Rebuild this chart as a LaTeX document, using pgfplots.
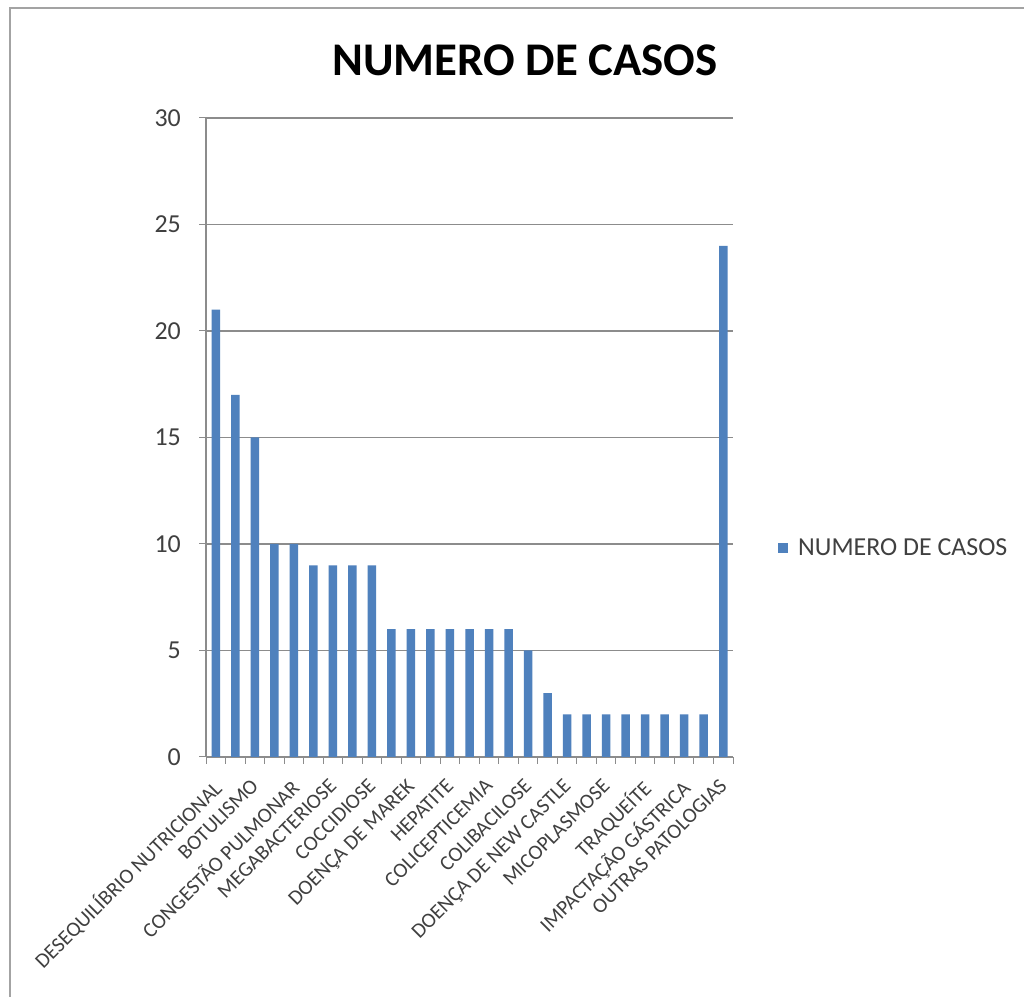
\documentclass[border=0pt]{standalone}
\usepackage{fontspec}
\setmainfont{Carlito}
\usepackage{pgfplots}
\pgfplotsset{compat=1.18}
\definecolor{barblue}{HTML}{4F81BD}
\definecolor{gridgray}{HTML}{8C8C8C}
\definecolor{txtgray}{HTML}{404040}
\begin{document}
\begin{tikzpicture}[x=1bp,y=1bp]
\useasboundingbox (0,0) rectangle (1024,997);
\fill[white] (0,0) rectangle (1024,997);
\draw[color=gridgray!80,line width=2.5bp] (10,0) -- (10,989) -- (1024,989);
\node[font=\fontsize{47}{50}\selectfont\bfseries] at (525,937) {NUMERO DE CASOS};
\begin{axis}[
  at={(206bp,240bp)}, anchor=south west,
  scale only axis, width=527bp, height=639bp,
  xmin=-0.5, xmax=26.5, ymin=0, ymax=30,
  ytick={0,5,...,30},
  xtick={0,2,...,26},
  xticklabels={DESEQUILÍBRIO NUTRICIONAL,BOTULISMO,CONGESTÃO PULMONAR,MEGABACTERIOSE,COCCIDIOSE,DOENÇA DE MAREK,HEPATITE,COLICEPTICEMIA,COLIBACILOSE,DOENÇA DE NEW CASTLE,MICOPLASMOSE,TRAQUEÍTE,IMPACTAÇÃO GÁSTRICA,OUTRAS PATOLOGIAS},
  minor xtick={-0.5,0.5,...,26.5},
  xtick style={draw=none},
  minor x tick style={draw=gridgray,line width=1bp},
  ytick style={draw=gridgray,line width=1bp},
  minor tick length=7bp, major tick length=7bp,
  tick align=outside,
  axis lines*=left,
  axis line style={draw=gridgray,line width=1.2bp},
  ymajorgrids, grid style={draw=gridgray,line width=1.2bp},
  /pgf/number format/assume math mode=true,
  yticklabel style={font=\fontsize{26}{28}\selectfont, text=txtgray, inner sep=0bp, xshift=-18bp},
  xticklabel style={font=\fontsize{21}{23}\selectfont, text=txtgray, rotate=45, anchor=north east, inner sep=0bp, xshift=-13bp, yshift=-6bp},
  legend style={at={(1.0,0.327)}, anchor=west, xshift=45bp, draw=none, fill=none, inner sep=0pt, nodes={inner sep=0pt}, column sep=10bp, font=\fontsize{26}{28}\selectfont, text=txtgray},
  legend image code/.code={\fill[barblue] (0bp,-5bp) rectangle (10bp,5bp);},
]
\addplot[ybar, bar width=8.5bp, fill=barblue, draw=none] coordinates {
(0,21) (1,17) (2,15) (3,10) (4,10) (5,9) (6,9) (7,9) (8,9)
(9,6) (10,6) (11,6) (12,6) (13,6) (14,6) (15,6) (16,5) (17,3)
(18,2) (19,2) (20,2) (21,2) (22,2) (23,2) (24,2) (25,2) (26,24)};
\addlegendentry{NUMERO DE CASOS}
\end{axis}
\end{tikzpicture}
\end{document}
